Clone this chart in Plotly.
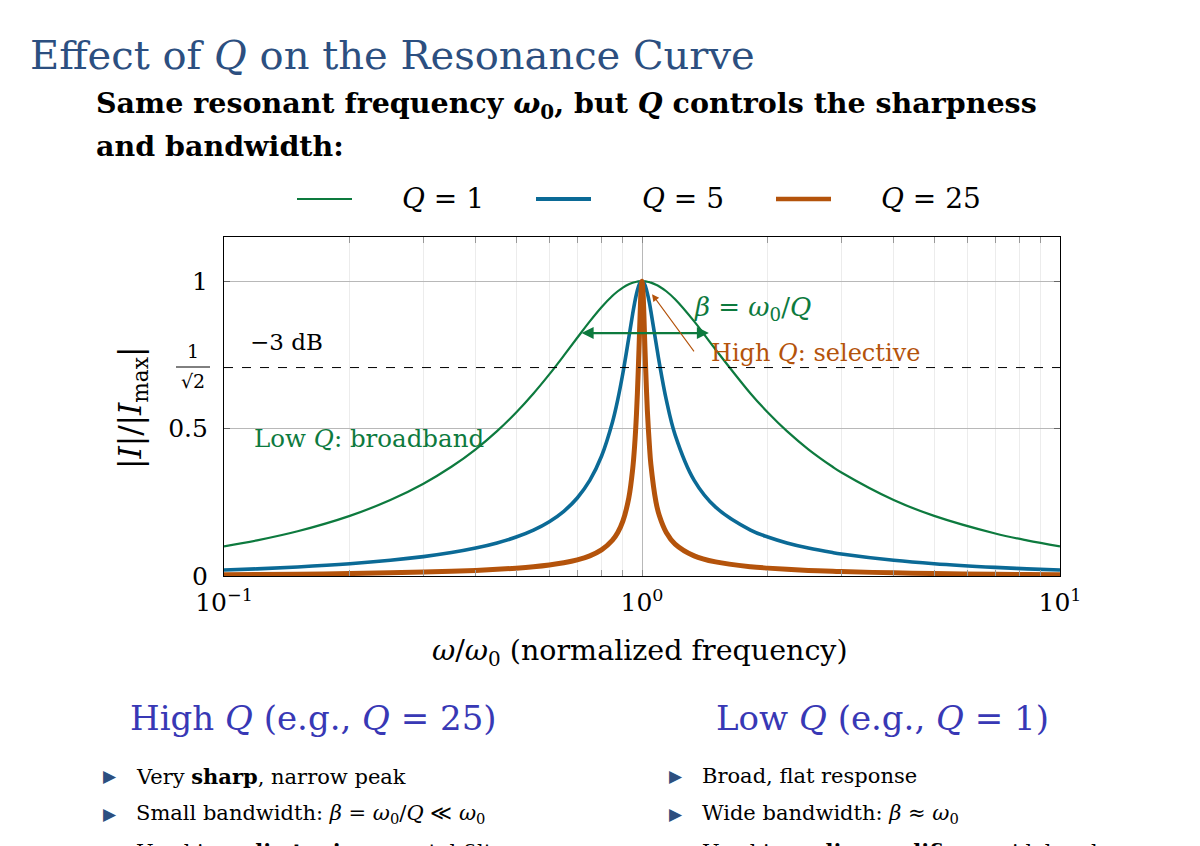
import plotly.graph_objects as go

# ---------------- data ----------------
omega_ratio = [0.1, 0.12, 0.15, 0.2, 0.25, 0.3, 0.35, 0.4, 0.45, 0.5,
               0.55, 0.6, 0.65, 0.7, 0.75, 0.8, 0.85, 0.875, 0.9, 0.93,
               0.95, 0.96, 0.97, 0.98, 0.985, 0.99, 0.995, 1.0, 1.005, 1.01,
               1.015, 1.02, 1.03, 1.042, 1.05, 1.08, 1.1, 1.143, 1.2, 1.333,
               1.5, 1.818, 2.0, 2.222, 2.5, 2.857, 3.0, 4.0, 5.0, 7.0,
               8.333, 10.0]
amp_q1 = [0.1005, 0.1209, 0.1517, 0.2040, 0.2577, 0.3131, 0.3705, 0.4299, 0.4914, 0.5547,
          0.6192, 0.6839, 0.7476, 0.8082, 0.8638, 0.9119, 0.9506, 0.9660, 0.9784, 0.9896,
          0.9948, 0.9967, 0.9982, 0.9992, 0.9995, 0.9998, 1.0, 1.0, 1.0, 0.9998,
          0.9995, 0.9992, 0.9983, 0.9967, 0.9953, 0.9883, 0.9823, 0.9660, 0.9389, 0.8638,
          0.7682, 0.6192, 0.5547, 0.4914, 0.4299, 0.3705, 0.3511, 0.2577, 0.2040, 0.1443,
          0.1209, 0.1005]
amp_q5 = [0.0202, 0.0243, 0.0307, 0.0416, 0.0533, 0.0658, 0.0795, 0.0948, 0.1121, 0.1322,
          0.1558, 0.1843, 0.2196, 0.2647, 0.3243, 0.4061, 0.5224, 0.5983, 0.6877, 0.8090,
          0.8897, 0.9258, 0.9566, 0.9802, 0.9888, 0.9950, 0.9987, 1.0, 0.9987, 0.9951,
          0.9888, 0.9810, 0.9590, 0.9258, 0.8987, 0.7921, 0.7234, 0.5983, 0.4788, 0.3243,
          0.2334, 0.1558, 0.1322, 0.1121, 0.0948, 0.0795, 0.0748, 0.0533, 0.0416, 0.0292,
          0.0243, 0.0202]
amp_q25 = [0.0040, 0.0049, 0.0061, 0.0083, 0.0107, 0.0132, 0.0160, 0.0190, 0.0226, 0.0267,
           0.0315, 0.0375, 0.0450, 0.0548, 0.0684, 0.0885, 0.1216, 0.1477, 0.1861, 0.2655,
           0.3632, 0.4399, 0.5490, 0.7036, 0.7978, 0.8935, 0.9700, 1.0, 0.9700, 0.8953,
           0.7978, 0.7107, 0.5605, 0.4399, 0.3792, 0.2513, 0.2051, 0.1477, 0.1084, 0.0684,
           0.0479, 0.0315, 0.0267, 0.0226, 0.0190, 0.0160, 0.0150, 0.0107, 0.0083, 0.0058,
           0.0049, 0.0040]
series_names = ["<i>Q</i> = 1", "<i>Q</i> = 5", "<i>Q</i> = 25"]
x_tick_vals = [0.1, 1, 10]
x_tick_text = ["10<sup>−1</sup>", "10<sup>0</sup>", "10<sup>1</sup>"]
y_tick_vals = [0, 0.5, 1]
y_tick_text = ["0", "0.5", "1"]
half_power = 0.7071

# ---------------- style ----------------
GREEN = "#0d7a3e"
BLUE = "#0b6a96"
ORANGE = "#b4530b"
TITLE_BLUE = "#2c4f80"
HEAD_BLUE = "#3838b5"
SERIF = "DejaVu Serif"

W, H = 1200, 846
L, R, T, B = 224, 1060, 237, 576


def px(x):
    return (x - L) / (R - L)


def py(y):
    return (B - y) / (B - T)


fig = go.Figure()
for ys, col, w in [(amp_q1, GREEN, 2.2), (amp_q5, BLUE, 3.6), (amp_q25, ORANGE, 5)]:
    fig.add_trace(go.Scatter(x=omega_ratio, y=ys, mode="lines",
                             line=dict(color=col, width=w, shape="spline", smoothing=1.0),
                             showlegend=False, hoverinfo="skip"))

fig.update_layout(
    width=W, height=H, autosize=False,
    margin=dict(l=L, r=W - R, t=T, b=H - B),
    paper_bgcolor="white", plot_bgcolor="white",
    font=dict(family=SERIF, color="black"),
    showlegend=False,
)
fig.update_xaxes(type="log", range=[-1, 1], tickvals=x_tick_vals, ticktext=x_tick_text,
                 tickfont=dict(size=25, family=SERIF), showline=True, linecolor="black",
                 linewidth=1.2, mirror="ticks", ticks="inside", ticklen=6, tickcolor="#888",
                 showgrid=True, gridcolor="#b8b8b8", gridwidth=1.2, zeroline=False,
                 minor=dict(ticks="inside", ticklen=6, tickcolor="#999", showgrid=True,
                            gridcolor="#ececec", gridwidth=1, dtick="D1"),
                 ticklabelstandoff=4)
fig.update_yaxes(range=[0, 1.15], tickvals=y_tick_vals, ticktext=y_tick_text,
                 tickfont=dict(size=25, family=SERIF), showline=True, linecolor="black",
                 linewidth=1.2, mirror="ticks", ticks="inside", ticklen=6, tickcolor="#666",
                 showgrid=True, gridcolor="#b8b8b8", gridwidth=1.4, zeroline=False,
                 ticklabelstandoff=10)

# dashed -3 dB line
fig.add_shape(type="line", xref="paper", x0=0, x1=1, yref="y", y0=half_power, y1=half_power,
              line=dict(color="black", width=1, dash="dash"))

ann = []


def text(x, y, s, size, color="black", xanchor="center", yanchor="middle", angle=0):
    ann.append(dict(x=px(x), y=py(y), xref="paper", yref="paper", text=s, showarrow=False,
                    font=dict(size=size, color=color, family=SERIF), xanchor=xanchor,
                    yanchor=yanchor, textangle=angle))


# 1/sqrt(2) fraction tick label
text(193, 351, "1", 19)
text(193, 381, "√2", 19)
fig.add_shape(type="line", xref="paper", yref="paper", x0=px(176), x1=px(210),
              y0=py(367), y1=py(367), line=dict(color="black", width=1))

# axis titles
text(132, 408, "|<i>I</i>|/|<i>I</i><sub>max</sub>|", 31, angle=-90)
text(640, 652, "<i>ω</i>/<i>ω</i><sub>0</sub> (normalized frequency)", 28.5)

# in-plot labels
text(248, 342, "−3 dB", 23, xanchor="left")
text(252, 438, "Low <i>Q</i>: broadband", 24.5, GREEN, xanchor="left")
text(692, 308, "<i>β</i> = <i>ω</i><sub>0</sub>/<i>Q</i>", 26, GREEN, xanchor="left")
text(709, 353, "High <i>Q</i>: selective", 24, ORANGE, xanchor="left")

# bandwidth double arrow (data coords, log10 for x)
ann.append(dict(x=0.160, y=0.824, ax=-0.148, ay=0.824, xref="x", yref="y", axref="x",
                ayref="y", text="", showarrow=True, arrowhead=2, startarrowhead=2,
                arrowside="end+start", arrowsize=1, startarrowsize=1, arrowwidth=2.4,
                arrowcolor=GREEN))
# orange pointer arrow
ann.append(dict(x=0.024, y=0.956, ax=0.127, ay=0.757, xref="x", yref="y", axref="x",
                ayref="y", text="", showarrow=True, arrowhead=2, arrowsize=1.3,
                arrowwidth=1.1, arrowcolor=ORANGE))

# legend (manual)
for (x0, x1, tx), col, w, name in zip([(297, 352, 443), (536, 591, 683), (776, 831, 931)],
                                      [GREEN, BLUE, ORANGE], [2.2, 4, 4.5], series_names):
    fig.add_shape(type="line", xref="paper", yref="paper", x0=px(x0), x1=px(x1),
                  y0=py(199), y1=py(199), line=dict(color=col, width=w))
    text(tx, 198, name, 28)

# titles
text(28, 55, "Effect of <i>Q</i> on the Resonance Curve", 40, TITLE_BLUE, xanchor="left")
text(94, 105, "<b>Same resonant frequency <i>ω</i><sub>0</sub>, but <i>Q</i> controls the sharpness</b>",
     28.5, xanchor="left")
text(94, 146, "<b>and bandwidth:</b>", 28.5, xanchor="left")

# bottom columns
text(313, 718, "High <i>Q</i> (e.g., <i>Q</i> = 25)", 34, HEAD_BLUE)
text(882, 718, "Low <i>Q</i> (e.g., <i>Q</i> = 1)", 34, HEAD_BLUE)

left_items = ["Very <b>sharp</b>, narrow peak",
              "Small bandwidth: <i>β</i> = <i>ω</i><sub>0</sub>/<i>Q</i> ≪ <i>ω</i><sub>0</sub>",
              "Used in <b>radio tuning</b>, crystal filters"]
right_items = ["Broad, flat response",
               "Wide bandwidth: <i>β</i> ≈ <i>ω</i><sub>0</sub>",
               "Used in <b>audio amplifiers</b>, wideband"]
for col_x, items in [(110, left_items), (676, right_items)]:
    for yy, s in zip([776, 814, 851], items):
        ann.append(dict(x=px(col_x), y=py(yy), xref="paper", yref="paper", text="▶",
                        showarrow=False, font=dict(size=17, color=TITLE_BLUE, family="DejaVu Sans"),
                        xanchor="center", yanchor="middle"))
        text(col_x + 24, yy, s, 21, xanchor="left")

fig.update_layout(annotations=ann)
fig.write_html("out.html")
